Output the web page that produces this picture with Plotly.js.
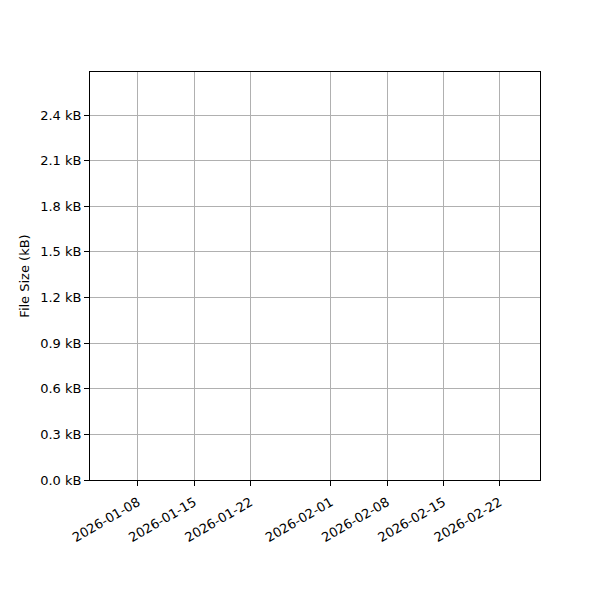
<!DOCTYPE html>
<html>
<head>
<meta charset="utf-8">
<script src="https://cdn.plot.ly/plotly-3.0.1.min.js"></script>
<style>
  html, body { margin: 0; padding: 0; background: white; }
  #chart { width: 600px; height: 600px; }
</style>
</head>
<body>
<div id="chart"></div>
<script>
// the reference has no data drawn, only the empty axes
var dates = [];
var sizesKB = [];

var xTicks = ['2026-01-08', '2026-01-15', '2026-01-22', '2026-02-01',
              '2026-02-08', '2026-02-15', '2026-02-22'];
var xRange = ['2026-01-02 01:00', '2026-02-27 00:00'];
var yTicks = [0, 0.3, 0.6, 0.9, 1.2, 1.5, 1.8, 2.1, 2.4];
var yTickText = yTicks.map(function (v) { return v.toFixed(1) + ' kB'; });
var yRange = [0, 2.683];

var trace = {
    x: dates,
    y: sizesKB,
    type: 'scatter',
    mode: 'lines+markers',
    line: { color: '#1f77b4', width: 1.5 },
    showlegend: false
};

var layout = {
    width: 600,
    height: 600,
    margin: { l: 90, r: 60, t: 72, b: 120 },
    paper_bgcolor: 'white',
    plot_bgcolor: 'white',
    font: { family: 'DejaVu Sans', size: 13, color: 'black' },
    showlegend: false,
    xaxis: {
        type: 'date',
        range: xRange,
        tickvals: xTicks,
        ticktext: xTicks,
        tickangle: -30,
        ticks: 'outside',
        ticklen: 5,
        tickcolor: 'black',
        ticklabelstandoff: 4,
        showgrid: true,
        gridcolor: '#b0b0b0',
        gridwidth: 1,
        showline: true,
        linecolor: 'black',
        linewidth: 1,
        mirror: true,
        zeroline: false,
        automargin: false
    },
    yaxis: {
        range: yRange,
        tickvals: yTicks,
        ticktext: yTickText,
        ticks: 'outside',
        ticklen: 5,
        tickcolor: 'black',
        showgrid: true,
        gridcolor: '#b0b0b0',
        gridwidth: 1,
        showline: true,
        linecolor: 'black',
        linewidth: 1,
        mirror: true,
        zeroline: false,
        automargin: false,
        title: { text: 'File Size (kB)', font: { size: 13 }, standoff: 7 }
    }
};

Plotly.newPlot('chart', [trace], layout, { staticPlot: true, displayModeBar: false });
</script>
</body>
</html>
